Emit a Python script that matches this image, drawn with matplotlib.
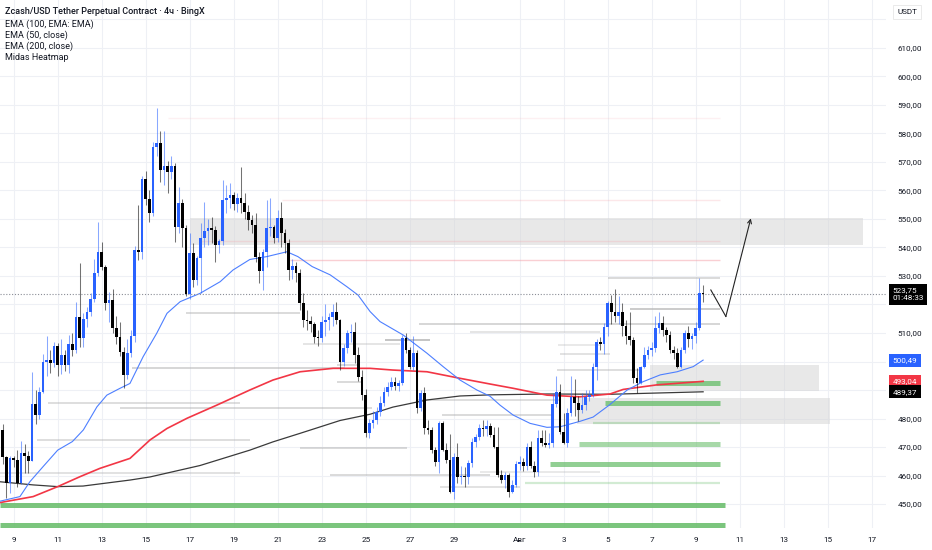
import matplotlib
matplotlib.use('Agg')
import matplotlib.pyplot as plt
import matplotlib.transforms as mtransforms

plt.rcParams['font.family'] = ['Roboto', 'DejaVu Sans']

# ---------------- data (4h candles, first candle = Jul 8 12:00) ----------------
first_open = 476.0
closes = [
    466.6, 457.3, 466.0, 465.5, 457.3, 467.8, 467.0, 465.0, 485.0, 481.2,
    489.4, 499.9, 500.4, 499.5, 505.4, 498.8, 502.3, 498.8, 506.0, 504.0,
    515.6, 508.1, 514.8, 517.5, 522.0, 531.0, 538.5, 533.0, 520.4, 521.5,
    511.6, 508.7, 503.5, 495.3, 503.0, 508.9, 539.1, 538.5, 563.9, 557.0,
    552.0, 575.4, 576.5, 567.2, 568.5, 566.5, 568.7, 547.3, 555.5, 546.8,
    523.7, 538.0, 528.6, 536.3, 543.3, 545.9, 547.0, 546.0, 540.9, 542.4,
    556.7, 557.5, 558.4, 555.1, 557.2, 555.5, 552.6, 549.6, 547.9, 536.8,
    531.9, 538.5, 546.7, 547.3, 543.3, 550.2, 545.0, 541.5, 532.0, 533.5,
    531.0, 520.4, 514.6, 514.2, 513.0, 508.7, 508.2, 514.0, 514.5, 515.5,
    517.5, 514.5, 499.9, 504.6, 509.9, 510.5, 502.3, 494.7, 488.3, 474.8,
    478.3, 479.4, 482.4, 485.3, 489.4, 491.2, 492.9, 491.5, 492.5, 508.2,
    504.1, 498.2, 502.9, 483.6, 488.8, 476.6, 476.0, 469.0, 464.9, 478.3,
    469.0, 465.4, 454.3, 466.6, 459.6, 460.0, 459.6, 464.3, 471.9, 473.6,
    476.6, 476.2, 477.5, 474.2, 470.1, 460.2, 458.4, 460.2, 454.3, 456.6,
    464.2, 464.8, 463.5, 470.1, 463.5, 461.3, 473.0, 471.3, 470.6, 471.3,
    485.1, 489.4, 475.3, 471.3, 481.8, 487.6, 485.3, 483.0, 484.7, 487.5,
    488.2, 498.2, 507.0, 506.0, 512.2, 520.4, 517.5, 516.0, 517.5, 512.3,
    508.8, 507.6, 494.2, 492.4, 498.2, 502.4, 504.1, 504.7, 511.7, 513.5,
    511.0, 509.3, 504.1, 502.9, 498.2, 504.1, 510.0, 508.0, 508.8, 511.7,
    523.9, 523.75,
]
highs = [
    478.0, 467.0, 467.0, 467.0, 469.0, 472.0, 471.0, 468.5, 496.4, 490.0,
    491.0, 502.7, 509.0, 504.0, 507.0, 506.5, 508.0, 504.0, 509.3, 510.0,
    521.0, 534.7, 517.0, 519.0, 524.0, 536.0, 549.0, 542.0, 534.0, 524.5,
    525.5, 516.0, 514.0, 505.0, 508.0, 511.0, 540.5, 555.0, 565.0, 567.0,
    560.0, 577.0, 588.9, 581.0, 581.0, 570.5, 572.0, 569.5, 561.3, 557.0,
    548.0, 545.0, 541.6, 537.0, 548.7, 556.1, 550.0, 550.8, 547.5, 543.0,
    563.7, 562.0, 562.5, 559.5, 559.0, 568.4, 559.0, 555.0, 551.5, 552.0,
    538.5, 539.5, 556.6, 557.2, 548.0, 553.2, 556.1, 546.5, 543.0, 536.0,
    535.0, 532.5, 524.0, 518.0, 516.0, 514.0, 511.0, 516.0, 520.0, 517.0,
    520.0, 521.0, 515.0, 506.0, 511.0, 513.3, 514.0, 505.0, 497.0, 490.5,
    480.0, 482.5, 484.0, 488.0, 491.0, 492.9, 494.5, 494.5, 493.5, 509.3,
    510.0, 505.0, 509.0, 504.0, 490.0, 491.0, 479.5, 477.0, 470.0, 479.0,
    479.0, 471.5, 474.5, 467.8, 471.5, 463.5, 463.0, 465.5, 473.0, 474.5,
    478.0, 479.5, 479.5, 478.5, 477.0, 477.0, 462.0, 461.3, 461.0, 458.5,
    465.0, 467.0, 466.0, 471.5, 472.0, 465.0, 475.9, 475.9, 475.9, 475.0,
    488.8, 494.9, 492.0, 482.0, 483.6, 495.0, 494.0, 488.0, 489.0, 490.0,
    490.0, 499.5, 508.0, 508.5, 513.5, 521.2, 523.3, 525.3, 523.0, 520.4,
    514.6, 517.5, 508.5, 497.7, 498.5, 505.0, 505.5, 507.0, 515.8, 517.5,
    515.8, 512.0, 510.6, 505.5, 504.7, 505.0, 511.0, 512.5, 510.0, 514.0,
    529.2, 526.8,
]
lows = [
    464.0, 452.0, 454.0, 463.0, 456.0, 457.0, 461.0, 461.0, 465.0, 478.0,
    480.0, 489.0, 495.0, 496.0, 498.0, 495.0, 495.5, 496.5, 496.0, 502.0,
    503.0, 505.0, 505.0, 512.0, 516.0, 521.0, 530.0, 532.0, 518.0, 514.0,
    510.0, 506.0, 502.0, 490.6, 494.0, 501.5, 507.0, 535.5, 536.0, 555.0,
    549.0, 551.0, 572.0, 563.0, 562.0, 559.0, 564.0, 542.0, 545.0, 540.0,
    523.0, 522.0, 526.0, 527.0, 524.0, 540.0, 541.0, 541.5, 535.0, 538.0,
    541.0, 552.0, 554.0, 553.0, 552.5, 552.0, 550.0, 546.0, 545.0, 535.0,
    527.5, 525.0, 533.3, 544.0, 541.6, 542.0, 540.0, 538.0, 528.6, 529.0,
    528.0, 518.0, 512.0, 511.0, 510.5, 506.4, 505.5, 507.0, 509.0, 511.0,
    512.5, 513.0, 497.0, 498.5, 503.0, 507.0, 499.5, 493.0, 486.5, 473.5,
    473.0, 476.5, 478.0, 481.0, 484.5, 488.0, 490.0, 490.0, 489.5, 491.8,
    503.0, 497.5, 497.0, 481.9, 482.5, 474.5, 474.5, 468.0, 463.5, 461.0,
    468.5, 464.5, 453.7, 451.9, 457.5, 457.0, 456.0, 457.0, 463.0, 470.0,
    472.5, 474.0, 474.0, 473.5, 469.5, 459.5, 457.2, 455.5, 452.6, 453.7,
    456.0, 462.0, 461.5, 462.0, 462.5, 459.6, 460.0, 470.5, 470.0, 469.5,
    470.0, 484.0, 474.5, 471.0, 470.0, 481.0, 481.0, 479.0, 482.0, 483.0,
    486.0, 487.5, 493.5, 504.0, 502.5, 508.8, 513.0, 514.0, 513.0, 508.8,
    506.0, 505.9, 492.4, 489.0, 492.0, 497.7, 501.0, 502.0, 503.5, 510.0,
    509.0, 507.0, 503.0, 501.0, 497.7, 497.7, 503.0, 505.0, 504.5, 506.5,
    511.0, 520.8,
]

# EMA lines (candle index, price)
ema50_idx = [-0.7, 4.7, 7.4, 11, 15, 19, 22, 25.7, 28.4, 32, 34.7, 38.3, 42, 44.8, 48.4,
             53.8, 59.3, 62.8, 67.4, 72, 77.5, 80.5, 84.4, 89.3, 93.9, 96.9, 100.2, 102.9,
             109.2, 115.7, 120.1, 124.7, 129.3, 132.9, 135.6, 139.2, 143.8, 148.4, 152,
             157.4, 161, 165.4, 170.3, 174.6, 179.3, 183.9, 188.3, 191]
ema50_val = [451.0, 452.6, 457.8, 463.1, 468.9, 471.9, 476.0, 484.1, 488.2, 490.6, 492.3,
             501.7, 509.9, 516.9, 521.0, 523.9, 528.0, 532.1, 535.8, 536.8, 538.5, 536.8,
             533.3, 530.4, 526.2, 523.3, 517.5, 514.0, 509.3, 502.9, 498.2, 493.5, 490.0,
             487.8, 484.7, 481.2, 478.3, 476.9, 477.1, 479.0, 480.5, 484.7, 490.0, 492.9,
             495.3, 496.4, 498.2, 500.49]
ema100_idx = [-0.7, 8.3, 15, 21.1, 26.5, 34.7, 40.2, 44.8, 50.3, 58.4, 67.4, 73.7, 81.1,
              90.1, 100.2, 106.4, 115.7, 124.7, 132.9, 139.2, 148.4, 157.4, 165.6, 169.2,
              178.4, 191]
ema100_val = [450.5, 452.6, 456.1, 459.6, 462.5, 466.0, 472.5, 476.5, 480.1, 484.7, 490.0,
              493.5, 496.4, 497.6, 497.6, 497.0, 496.4, 494.1, 492.1, 490.6, 488.2, 487.6,
              488.6, 490.2, 491.8, 493.04]
ema200_idx = [-0.7, 8.3, 15, 21.9, 34.7, 40.2, 53.8, 67.4, 73.7, 81.1, 92, 100.2, 106.4,
              115.7, 124.7, 132.9, 148.4, 165.6, 191]
ema200_val = [457.8, 456.7, 456.1, 456.3, 458.4, 459.5, 463.5, 468.9, 471.8, 474.8, 479.3,
              481.5, 484.0, 486.5, 487.9, 488.3, 488.6, 488.5, 489.37]

# heatmap levels: price, start index, end index
green_price = [449.8, 442.8, 464.0, 471.2, 485.5, 492.6, 478.4, 457.2]
green_start = [-0.7, -0.7, 149.3, 157.2, 164.3, 178.2, 161.0, 142.4]
green_end = [197.0, 197.0, 195.6, 195.6, 195.6, 195.6, 195.6, 195.6]
green_strength = [0.9, 0.9, 0.75, 0.6, 0.8, 0.8, 0.35, 0.3]

gray_price = [529.2, 518.3, 516.9, 513.0, 510.3, 507.5, 506.0, 502.7, 505.8, 497.7,
              497.0, 498.8, 492.9, 486.5, 485.5, 483.6, 481.2, 472.5, 469.5, 461.0,
              460.2, 461.3, 456.1]
gray_start = [165.1, 171.1, 50.0, 113.5, 127.4, 104.3, 81.9, 152.0, 151.4, 35.3,
              151.2, 91.2, 91.2, 113.0, 12.4, 32.0, 119.8, 9.4, 81.1, -0.7,
              89.3, 130.2, 119.3]
gray_end = [195.6, 195.6, 81.1, 195.6, 162.9, 116.5, 108.3, 165.6, 162.9, 93.4,
            173.8, 97.4, 98.0, 152.0, 64.7, 100.7, 149.8, 67.4, 110.3, 64.7,
            132.9, 162.9, 141.1]
gray_strength = [0.5, 0.7, 0.5, 0.55, 0.35, 0.8, 0.35, 0.4, 0.3, 0.55,
                 0.45, 0.5, 0.5, 0.45, 0.45, 0.5, 0.5, 0.45, 0.5, 0.4,
                 0.5, 0.3, 0.4]

red_price = [535.5, 542.4, 556.7, 585.4]
red_start = [78.4, 53.8, 76.2, 45.1]
red_end = [195.6, 195.6, 195.6, 195.6]
red_strength = [0.5, 0.25, 0.25, 0.15]

# zones: start index, end index, low, high
zone_start = [51.0, 176.5, 156.6]
zone_end = [234.6, 222.6, 225.6]
zone_low = [540.9, 489.6, 477.9]
zone_high = [550.3, 498.7, 487.2]

# projected path
path_idx = [193.1, 197.2, 204.0]
path_price = [525.1, 515.8, 550.2]

date_idx = [3, 15, 27, 39, 51, 63, 75, 87, 99, 111, 123, 141, 153, 165, 177, 189, 201, 213, 225, 237]
date_labels = ['9', '11', '13', '15', '17', '19', '21', '23', '25', '27', '29',
               'Авг', '3', '5', '7', '9', '11', '13', '15', '17']
price_ticks = [450, 460, 470, 480, 510, 530, 540, 550, 560, 570, 580, 590, 600, 610]
grid_prices = [450, 460, 470, 480, 490, 500, 510, 520, 530, 540, 550, 560, 570, 580, 590, 600, 610, 620]

last_price = 523.75
countdown = '01:48:33'
ema50_last = 500.49
ema100_last = 493.04
ema200_last = 489.37

title = 'Zcash/USD Tether Perpetual Contract · 4ч · BingX'
legend_lines = ['EMA (100, EMA: EMA)', 'EMA (50, close)', 'EMA (200, close)', 'Midas Heatmap']

# ---------------- drawing ----------------
W, H = 932, 550
fig = plt.figure(figsize=(W / 100, H / 100), dpi=100)
fig.patch.set_facecolor('white')
ax = fig.add_axes([0, 22 / H, 886 / W, 528 / H])
ax.set_facecolor('white')
ax.set_xlim(-0.736, 240.87)
ax.set_ylim(441.58, 626.84)
for s in ax.spines.values():
    s.set_visible(False)

for p in grid_prices:
    ax.axhline(p, color='#eef0f5', lw=0.8, zorder=0)
for d in date_idx:
    ax.axvline(d, color='#eef0f5', lw=0.8, zorder=0)

# zones
for xs, xe, lo, hi in zip(zone_start, zone_end, zone_low, zone_high):
    ax.fill_between([xs, xe], lo, hi, color='#d6d6d6', alpha=0.55, lw=0, zorder=1)

# heatmap lines
for p, xs, xe, a in zip(gray_price, gray_start, gray_end, gray_strength):
    ax.hlines(p, xs, xe, color='#b0b0b0', alpha=a, lw=1.3, zorder=1)
for p, xs, xe, a in zip(red_price, red_start, red_end, red_strength):
    ax.hlines(p, xs, xe, color='#f5a0a8', alpha=a, lw=1.0, zorder=1)
for p, xs, xe, a in zip(green_price, green_start, green_end, green_strength):
    lw = 3.6 if a >= 0.6 else 1.6
    ax.hlines(p, xs, xe, color='#6dbf6f', alpha=a, lw=lw, zorder=1)

# EMA lines
ax.plot(ema200_idx, ema200_val, color='#3a3a3a', lw=0.9, zorder=2)
ax.plot(ema100_idx, ema100_val, color='#f23645', lw=1.2, zorder=2)
ax.plot(ema50_idx, ema50_val, color='#4d7fff', lw=0.8, zorder=2)

# candles
opens = [first_open] + closes[:-1]
idx = list(range(len(closes)))
up = [c >= o for o, c in zip(opens, closes)]
for i, o, h, l, c, u in zip(idx, opens, highs, lows, closes, up):
    col = '#2962ff' if u else '#000000'
    ax.vlines(i, l, h, color=col, alpha=0.55, lw=0.75, zorder=3)
bottoms = [min(o, c) for o, c in zip(opens, closes)]
heights = [max(abs(c - o), 0.35) for o, c in zip(opens, closes)]
colors = ['#2962ff' if u else '#000000' for u in up]
ax.bar(idx, heights, bottom=bottoms, width=0.72, color=colors, lw=0, zorder=4)

# current price dotted line
ax.axhline(last_price, color='#8a8d96', lw=0.8, ls=(0, (1, 1.6)), zorder=2)

# projected path
ax.plot(path_idx[:2], path_price[:2], color='#222222', lw=0.8, zorder=5)
ax.annotate('', xy=(path_idx[2], path_price[2]), xytext=(path_idx[1], path_price[1]),
            arrowprops=dict(arrowstyle='->', color='#222222', lw=0.8,
                            shrinkA=0, shrinkB=0, mutation_scale=7), zorder=5)

# axes ticks
ax.set_xticks(date_idx)
ax.set_xticklabels(date_labels)
ax.yaxis.tick_right()
ax.set_yticks(price_ticks)
ax.set_yticklabels([f'{p:.2f}'.replace('.', ',') for p in price_ticks])
ax.tick_params(axis='x', length=0, pad=6.5, labelsize=5.9, colors='#131722')
ax.tick_params(axis='y', length=0, pad=8.5, labelsize=5.9, colors='#131722')

# price labels
trans = mtransforms.blended_transform_factory(ax.transAxes, ax.transData)
lab_x = 1.0075
box = dict(boxstyle='square,pad=0.42', ec='none')
ax.annotate('523,75\n' + countdown, xy=(lab_x, last_price), xycoords=trans,
            xytext=(0, 4.6), textcoords='offset points', ha='left', va='top',
            fontsize=5.9, color='white', zorder=10, annotation_clip=False,
            linespacing=1.35, bbox=dict(box, fc='#000000'))
for val, fc in [(ema50_last, '#2962ff'), (ema100_last, '#f23645'), (ema200_last, '#000000')]:
    ax.text(lab_x, val, f'{val:.2f}'.replace('.', ','), transform=trans, ha='left',
            va='center', fontsize=5.9, color='white', zorder=10, clip_on=False,
            bbox=dict(box, fc=fc))

fig.text(897 / W, 1 - 12 / H, 'USDT', fontsize=5.9, color='#131722', va='center', ha='left',
         bbox=dict(boxstyle='square,pad=0.5', fc='white', ec='#e6e6e6', lw=0.6))

# legend text
fig.text(5 / W, 1 - 11.7 / H, title, fontsize=6.5, color='#131722', va='center', ha='left',
         fontweight='medium')
for k, t in enumerate(legend_lines):
    fig.text(5 / W, 1 - (24.2 + 11.2 * k) / H, t, fontsize=6.5, color='#131722',
             va='center', ha='left')

fig.savefig('out.png', dpi=100, facecolor='white')
